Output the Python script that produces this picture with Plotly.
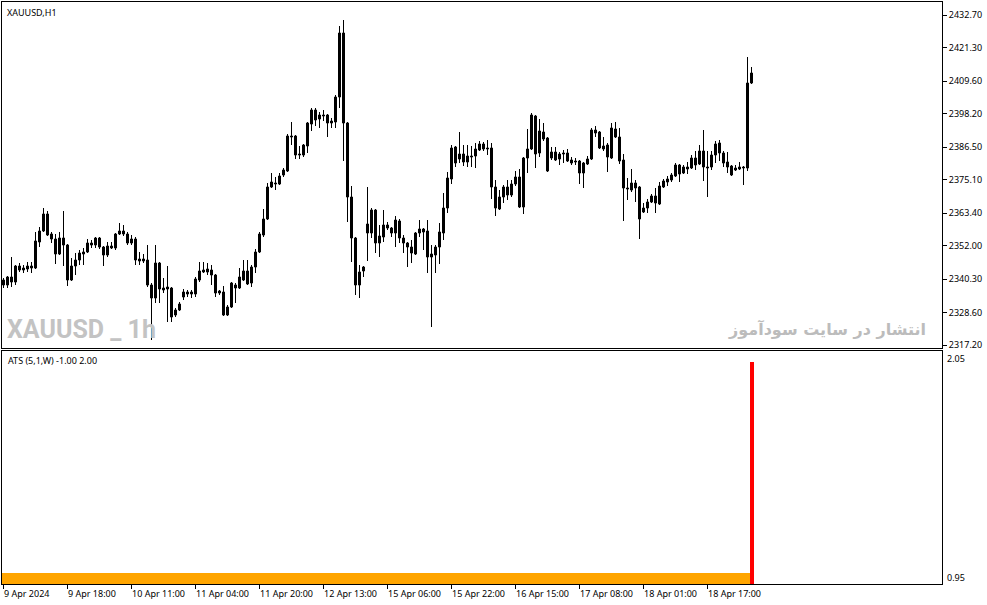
import plotly.graph_objects as go

# ---------------- data ----------------
opens = [2340.0, 2338.25, 2341.05, 2339.3, 2344.9, 2343.5, 2343.85, 2344.9, 2344.2, 2353.3,
         2357.15, 2363.1, 2356.1, 2354.35, 2349.1, 2354.7, 2352.25, 2340.0, 2344.9, 2347.0,
         2349.1, 2349.8, 2352.95, 2352.25, 2354.7, 2351.55, 2348.75, 2351.9, 2351.2, 2356.1,
         2357.15, 2356.1, 2352.95, 2354.35, 2347.35, 2346.65, 2347.0, 2338.25, 2333.7, 2345.95,
         2337.2, 2337.55, 2337.2, 2327.75, 2329.5, 2334.05, 2335.8, 2335.1, 2335.1, 2340.0,
         2343.5, 2343.85, 2343.5, 2341.75, 2336.15, 2335.8, 2327.75, 2330.55, 2338.25, 2337.2,
         2340.0, 2343.15, 2338.95, 2344.55, 2349.8, 2355.75, 2361.35, 2372.55, 2373.95, 2373.6,
         2376.75, 2378.15, 2390.4, 2390.4, 2384.1, 2383.75, 2386.9, 2394.6, 2399.5, 2396.35,
         2397.75, 2397.75, 2394.95, 2395.3, 2404.05, 2426.45, 2394.95, 2369.05, 2354.7, 2338.25,
         2343.15, 2359.6, 2356.45, 2364.5, 2352.95, 2355.05, 2359.25, 2358.2, 2356.45, 2360.65,
         2354.7, 2352.95, 2349.45, 2349.1, 2356.45, 2357.85, 2357.15, 2348.05, 2348.75, 2351.55,
         2356.45, 2365.2, 2375.35, 2386.55, 2382.35, 2384.1, 2381.3, 2383.4, 2383.4, 2385.5,
         2387.6, 2386.2, 2386.2, 2372.55, 2364.85, 2369.05, 2372.55, 2369.75, 2373.6, 2376.05,
         2365.55, 2382.7, 2385.85, 2397.4, 2384.45, 2391.8, 2389.7, 2382.7, 2384.8, 2382.35,
         2384.45, 2384.45, 2382.0, 2381.65, 2381.65, 2377.45, 2380.6, 2382.35, 2392.5, 2391.8,
         2385.85, 2387.25, 2382.7, 2392.85, 2390.05, 2382.0, 2372.2, 2371.5, 2373.95, 2372.55,
         2363.8, 2365.2, 2367.3, 2369.4, 2366.6, 2372.55, 2374.3, 2375.0, 2376.4, 2380.25,
         2377.45, 2378.85, 2379.2, 2382.7, 2380.6, 2385.15, 2379.55, 2379.55, 2383.75, 2387.95,
         2384.45, 2381.3, 2379.9, 2378.5, 2378.85, 2379.55, 2379.2, 2408.95]
highs = [2340.7, 2341.4, 2348.05, 2345.25, 2345.95, 2345.25, 2346.3, 2346.3, 2356.8, 2358.55,
         2365.2, 2364.15, 2356.8, 2356.1, 2356.8, 2364.15, 2352.6, 2347.7, 2349.45, 2350.5,
         2351.2, 2354.35, 2354.0, 2355.05, 2355.05, 2351.9, 2353.3, 2353.3, 2356.45, 2359.95,
         2359.25, 2356.8, 2355.75, 2355.05, 2349.8, 2349.1, 2352.25, 2338.95, 2352.25, 2346.3,
         2340.7, 2344.9, 2337.55, 2330.2, 2332.3, 2336.85, 2336.5, 2336.5, 2341.05, 2346.3,
         2346.3, 2345.95, 2345.25, 2342.1, 2336.5, 2337.9, 2331.25, 2339.3, 2338.95, 2344.2,
         2347.0, 2347.0, 2345.25, 2350.85, 2356.8, 2364.85, 2373.95, 2377.45, 2376.05, 2377.45,
         2379.2, 2391.1, 2395.3, 2390.75, 2386.9, 2387.6, 2395.3, 2400.2, 2400.2, 2398.8,
         2399.5, 2398.1, 2396.7, 2404.75, 2428.9, 2431.0, 2395.3, 2372.9, 2355.05, 2345.25,
         2344.9, 2372.55, 2365.2, 2364.85, 2359.25, 2364.5, 2360.3, 2358.55, 2362.4, 2361.35,
         2355.75, 2353.3, 2354.0, 2356.8, 2361.0, 2358.2, 2361.0, 2352.25, 2352.25, 2359.95,
         2370.45, 2377.8, 2387.25, 2386.9, 2391.8, 2387.25, 2387.25, 2386.9, 2387.95, 2388.65,
         2388.3, 2389.0, 2387.95, 2375.0, 2371.5, 2373.25, 2375.0, 2375.0, 2378.15, 2378.85,
         2383.05, 2392.85, 2398.45, 2397.75, 2396.35, 2394.95, 2390.05, 2386.55, 2386.55, 2384.8,
         2385.5, 2385.85, 2383.05, 2382.7, 2382.0, 2381.3, 2383.4, 2393.2, 2393.9, 2392.15,
         2390.05, 2387.95, 2394.95, 2395.3, 2393.2, 2384.1, 2375.7, 2378.85, 2375.0, 2372.9,
         2366.95, 2368.35, 2370.1, 2372.2, 2374.3, 2375.35, 2376.4, 2377.45, 2380.95, 2380.6,
         2380.25, 2381.3, 2383.75, 2385.15, 2387.25, 2392.5, 2385.15, 2385.15, 2388.65, 2389.0,
         2385.15, 2384.8, 2380.25, 2380.25, 2381.3, 2379.9, 2418.05, 2414.55]
lows = [2337.2, 2337.2, 2337.55, 2338.25, 2342.8, 2342.45, 2342.8, 2342.45, 2343.85, 2351.55,
        2356.8, 2355.4, 2352.95, 2345.6, 2348.75, 2344.9, 2337.9, 2339.65, 2341.75, 2345.25,
        2345.25, 2349.45, 2351.2, 2351.2, 2350.85, 2344.9, 2348.05, 2350.85, 2350.5, 2355.75,
        2355.4, 2352.25, 2352.25, 2345.25, 2345.25, 2345.95, 2337.55, 2319.0, 2331.95, 2331.95,
        2335.45, 2325.3, 2325.3, 2327.05, 2329.15, 2333.0, 2334.05, 2333.7, 2334.05, 2339.3,
        2342.45, 2341.75, 2338.25, 2334.05, 2334.75, 2327.4, 2327.4, 2330.2, 2331.95, 2336.85,
        2339.65, 2338.25, 2337.55, 2342.45, 2349.45, 2355.05, 2361.0, 2372.2, 2371.5, 2373.25,
        2376.05, 2377.8, 2387.25, 2382.35, 2382.35, 2383.05, 2384.45, 2392.15, 2393.9, 2393.2,
        2395.65, 2390.05, 2393.2, 2393.2, 2400.2, 2381.65, 2360.3, 2346.3, 2334.75, 2333.7,
        2341.05, 2346.65, 2354.7, 2349.45, 2348.05, 2353.3, 2357.5, 2355.05, 2351.55, 2352.95,
        2349.45, 2344.55, 2345.95, 2348.75, 2355.05, 2350.5, 2342.45, 2323.55, 2342.45, 2345.6,
        2354.0, 2363.45, 2373.6, 2379.55, 2380.95, 2379.9, 2379.55, 2379.55, 2379.2, 2385.15,
        2385.15, 2383.75, 2368.35, 2362.4, 2364.5, 2366.95, 2368.0, 2369.05, 2372.9, 2365.2,
        2363.1, 2377.45, 2385.5, 2379.2, 2383.05, 2388.65, 2377.8, 2382.0, 2381.65, 2380.25,
        2380.95, 2381.3, 2380.25, 2380.25, 2373.6, 2372.2, 2380.25, 2382.0, 2390.05, 2385.85,
        2385.15, 2377.8, 2382.35, 2389.7, 2380.6, 2360.65, 2368.0, 2370.8, 2367.3, 2354.35,
        2363.45, 2363.45, 2366.95, 2363.45, 2366.25, 2372.2, 2372.9, 2374.3, 2376.05, 2374.3,
        2377.1, 2377.1, 2378.85, 2378.5, 2380.25, 2374.65, 2369.05, 2378.5, 2380.95, 2381.65,
        2379.55, 2377.45, 2376.4, 2378.15, 2378.5, 2373.25, 2378.15, 2408.6]
closes = [2338.25, 2341.05, 2339.3, 2344.9, 2343.5, 2344.2, 2344.9, 2344.2, 2353.65, 2357.15,
          2363.1, 2355.75, 2354.35, 2349.1, 2354.7, 2352.25, 2340.0, 2344.9, 2347.0, 2349.45,
          2349.8, 2352.95, 2352.25, 2354.7, 2351.55, 2348.75, 2351.9, 2351.2, 2356.1, 2357.15,
          2356.1, 2352.95, 2354.35, 2347.0, 2346.65, 2347.35, 2338.25, 2333.7, 2345.95, 2336.85,
          2336.5, 2336.85, 2327.05, 2329.5, 2331.6, 2335.8, 2335.1, 2335.8, 2340.35, 2343.15,
          2342.8, 2342.8, 2341.75, 2335.45, 2335.45, 2327.75, 2330.55, 2338.95, 2337.2, 2341.05,
          2343.15, 2338.6, 2344.55, 2349.8, 2356.1, 2361.35, 2372.55, 2374.3, 2373.6, 2376.4,
          2378.5, 2390.4, 2390.05, 2383.75, 2383.75, 2387.25, 2394.95, 2399.5, 2396.0, 2397.75,
          2397.4, 2394.95, 2395.65, 2404.05, 2426.45, 2394.95, 2369.05, 2354.7, 2338.25, 2342.8,
          2344.55, 2356.45, 2364.5, 2352.95, 2355.4, 2359.25, 2358.2, 2356.45, 2361.0, 2354.7,
          2352.95, 2351.55, 2351.55, 2356.45, 2357.85, 2356.8, 2348.05, 2349.1, 2351.55, 2356.8,
          2365.2, 2375.7, 2386.2, 2380.95, 2384.1, 2381.3, 2383.4, 2383.05, 2385.85, 2387.6,
          2385.85, 2385.85, 2372.55, 2365.2, 2369.05, 2372.55, 2369.75, 2373.6, 2376.05, 2365.55,
          2382.7, 2385.85, 2397.75, 2384.1, 2392.15, 2389.35, 2378.15, 2384.8, 2382.0, 2384.1,
          2384.1, 2381.65, 2380.95, 2381.3, 2377.45, 2380.95, 2382.35, 2392.5, 2391.45, 2386.2,
          2386.9, 2383.05, 2393.2, 2390.05, 2381.65, 2372.2, 2371.85, 2373.95, 2372.2, 2361.35,
          2365.2, 2367.3, 2369.4, 2366.95, 2372.9, 2374.65, 2375.35, 2376.75, 2380.25, 2377.1,
          2379.55, 2379.55, 2382.7, 2380.25, 2385.15, 2379.55, 2379.2, 2383.75, 2387.6, 2384.45,
          2380.95, 2379.55, 2376.75, 2379.2, 2379.55, 2379.2, 2408.95, 2412.45]

ats_values = [1, 1, 1, 1, 1, 1, 1, 1, 1, 1, 1, 1, 1, 1, 1, 1, 1, 1, 1, 1,
              1, 1, 1, 1, 1, 1, 1, 1, 1, 1, 1, 1, 1, 1, 1, 1, 1, 1, 1, 1,
              1, 1, 1, 1, 1, 1, 1, 1, 1, 1, 1, 1, 1, 1, 1, 1, 1, 1, 1, 1,
              1, 1, 1, 1, 1, 1, 1, 1, 1, 1, 1, 1, 1, 1, 1, 1, 1, 1, 1, 1,
              1, 1, 1, 1, 1, 1, 1, 1, 1, 1, 1, 1, 1, 1, 1, 1, 1, 1, 1, 1,
              1, 1, 1, 1, 1, 1, 1, 1, 1, 1, 1, 1, 1, 1, 1, 1, 1, 1, 1, 1,
              1, 1, 1, 1, 1, 1, 1, 1, 1, 1, 1, 1, 1, 1, 1, 1, 1, 1, 1, 1,
              1, 1, 1, 1, 1, 1, 1, 1, 1, 1, 1, 1, 1, 1, 1, 1, 1, 1, 1, 1,
              1, 1, 1, 1, 1, 1, 1, 1, 1, 1, 1, 1, 1, 1, 1, 1, 1, 1, 1, 1,
              1, 1, 1, 1, 1, 1, 1, 2]

time_tick_idx = [0, 16, 32, 48, 64, 80, 96, 112, 128, 144, 160, 176]
time_tick_text = ["9 Apr 2024", "9 Apr 18:00", "10 Apr 11:00", "11 Apr 04:00",
                  "11 Apr 20:00", "12 Apr 13:00", "15 Apr 06:00", "15 Apr 22:00",
                  "16 Apr 15:00", "17 Apr 08:00", "18 Apr 01:00", "18 Apr 17:00"]
price_ticks = [2432.70, 2421.30, 2409.60, 2398.20, 2386.50, 2375.10,
               2363.40, 2352.00, 2340.30, 2328.60, 2317.20]
ats_labels = ["2.05", "0.95"]

# ---------------- figure ----------------
FONT = "Noto Sans, Liberation Sans, sans-serif"
idx = list(range(len(opens)))

# candle bodies (bars from min(open, close)) and wicks (vertical lines low-high)
body_base = [min(o, c) for o, c in zip(opens, closes)]
body_len = [abs(c - o) for o, c in zip(opens, closes)]
body_fill = ["white" if c >= o else "black" for o, c in zip(opens, closes)]
wick_x, wick_y = [], []
for i, lo, hi in zip(idx, lows, highs):
    wick_x += [i, i, None]
    wick_y += [lo, hi, None]

ats_colors = ["#FF0000" if v >= 2 else "#FFA500" for v in ats_values]

fig = go.Figure()
fig.add_trace(go.Scatter(x=wick_x, y=wick_y, mode="lines",
                         line=dict(color="black", width=1),
                         xaxis="x", yaxis="y", hoverinfo="skip", showlegend=False))
fig.add_trace(go.Bar(x=idx, y=body_len, base=body_base, width=0.5,
                     marker=dict(color=body_fill, line=dict(color="black", width=1)),
                     xaxis="x", yaxis="y", hoverinfo="skip", showlegend=False))
fig.add_trace(go.Bar(x=idx, y=ats_values, width=1,
                     marker=dict(color=ats_colors, line=dict(width=0)),
                     xaxis="x2", yaxis="y2", hoverinfo="skip", showlegend=False))

axis_common = dict(showline=True, mirror=True, linecolor="black", linewidth=1,
                   showgrid=False, zeroline=False, fixedrange=True)
x_range = [-0.375, 234.625]

fig.update_layout(
    width=987, height=605,
    margin=dict(l=2, r=45, t=2, b=21, pad=0),
    paper_bgcolor="white", plot_bgcolor="white",
    showlegend=False, bargap=0, barmode="overlay",
    font=dict(family=FONT, size=9, color="black"),
    xaxis=dict(domain=[0, 1], anchor="y", range=x_range, showticklabels=False,
               ticks="", **axis_common),
    yaxis=dict(domain=[0.4055, 1], anchor="x", range=[2316.2, 2437.3], side="right",
               tickmode="array", tickvals=price_ticks,
               ticktext=[f"{v:.2f}" for v in price_ticks],
               ticks="outside", ticklen=4, tickcolor="black",
               tickfont=dict(family=FONT, size=9, color="black"), **axis_common),
    xaxis2=dict(domain=[0, 1], anchor="y2", matches="x", range=x_range,
                tickmode="array", tickvals=time_tick_idx, showticklabels=False,
                ticks="outside", ticklen=4, tickcolor="black", **axis_common),
    yaxis2=dict(domain=[0, 0.40034], anchor="x2", range=[0.9464, 2.0507], side="right",
                showticklabels=False, ticks="", **axis_common),
)

ann = []
ann.append(dict(text="XAUUSD,H1", xref="paper", yref="paper", x=0.003, y=0.9828,
                xanchor="left", yanchor="middle", showarrow=False,
                font=dict(family=FONT, size=9, color="black")))
ann.append(dict(text="ATS (5,1,W) -1.00 2.00", xref="paper", yref="paper", x=0.004, y=0.3843,
                xanchor="left", yanchor="middle", showarrow=False,
                font=dict(family=FONT, size=9, color="black")))
ann.append(dict(text="<b>XAUUSD _ 1h</b>", xref="paper", yref="paper", x=0.003, y=0.438,
                xanchor="left", yanchor="middle", showarrow=False,
                font=dict(family="Roboto", size=25, color="#c3c3c3")))
ann.append(dict(text="<b>انتشار در سایت سودآموز</b>", xref="paper", yref="paper", x=0.985, y=0.438,
                xanchor="right", yanchor="middle", showarrow=False,
                font=dict(family="DejaVu Sans", size=16, color="#bcbcbc")))
for i_t, t in zip(time_tick_idx, time_tick_text):
    ann.append(dict(text=t, xref="x2", yref="paper", x=i_t, y=-0.0163,
                    xanchor="left", yanchor="middle", showarrow=False, xshift=-2,
                    font=dict(family=FONT, size=9, color="black")))
for lab, ypos in zip(ats_labels, [0.3883, 0.0120]):
    ann.append(dict(text=lab, xref="paper", yref="paper", x=1.0035, y=ypos,
                    xanchor="left", yanchor="middle", showarrow=False,
                    font=dict(family=FONT, size=9, color="black")))
fig.update_layout(annotations=ann)

fig.write_html("out.html",
               config={"displayModeBar": False, "staticPlot": True},
               post_script="document.body.style.margin='0';document.body.style.padding='0';")
